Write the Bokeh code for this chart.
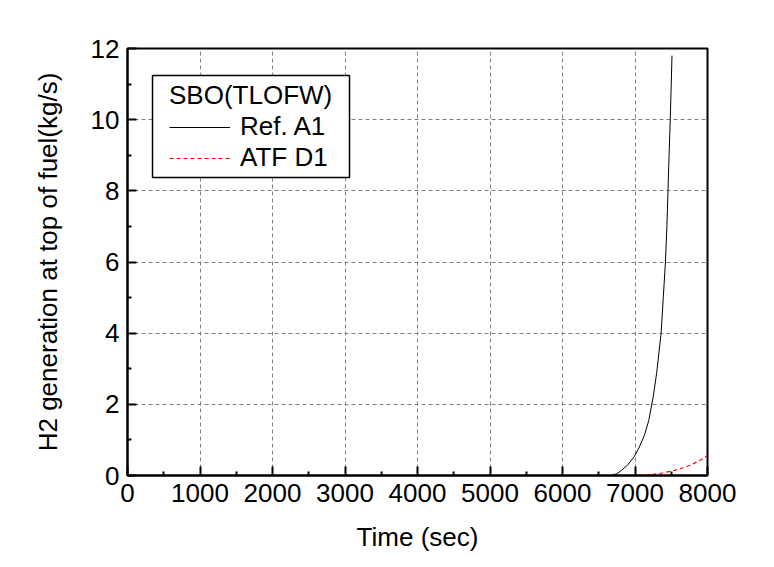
from bokeh.plotting import figure
from bokeh.models import Legend, LegendItem, Range1d, FixedTicker, BoxAnnotation
from bokeh.embed import file_html
from bokeh.resources import INLINE

# Data
ref_time = [0, 1000, 2000, 3000, 4000, 5000, 6000, 6500, 6670, 6750, 6810, 6900, 6990, 7060, 7130, 7190, 7250, 7300, 7360, 7390, 7420, 7440, 7455, 7470, 7486, 7500, 7510]
ref_a1 = [0, 0, 0, 0, 0, 0, 0, 0, 0.0, 0.05, 0.14, 0.30, 0.53, 0.80, 1.13, 1.55, 2.2, 2.9, 4.0, 5.0, 6.0, 7.0, 8.0, 9.0, 10.0, 11.0, 11.8]
atf_time = [0, 1000, 2000, 3000, 4000, 5000, 6000, 7000, 7125, 7250, 7375, 7500, 7625, 7750, 7875, 8000]
atf_d1 = [0, 0, 0, 0, 0, 0, 0, 0.0, 0.01, 0.035, 0.07, 0.12, 0.19, 0.28, 0.40, 0.56]

x_ticks = [0, 1000, 2000, 3000, 4000, 5000, 6000, 7000, 8000]
y_ticks = [0, 2, 4, 6, 8, 10, 12]
x_minor = [500, 1500, 2500, 3500, 4500, 5500, 6500, 7500]
y_minor = [1, 3, 5, 7, 9, 11]

FONT = "Liberation Sans"

p = figure(width=774, height=567, output_backend="svg", toolbar_location=None,
           x_range=Range1d(0, 8000), y_range=Range1d(0, 12),
           min_border_left=127, min_border_right=67, min_border_top=48, min_border_bottom=92)
p.background_fill_color = "white"
p.border_fill_color = "white"
p.outline_line_color = "black"
p.outline_line_width = 2

l1 = p.line(ref_time, ref_a1, line_color="black", line_width=1)
l2 = p.line(atf_time, atf_d1, line_color="red", line_width=1.2, line_dash="4 3")

for ax, ticks, minor in ((p.xaxis[0], x_ticks, x_minor), (p.yaxis[0], y_ticks, y_minor)):
    ax.ticker = FixedTicker(ticks=ticks, minor_ticks=minor)
    ax.major_tick_in = 9
    ax.major_tick_out = 0
    ax.minor_tick_in = 4
    ax.minor_tick_out = 0
    ax.major_tick_line_width = 2
    ax.minor_tick_line_width = 2
    ax.axis_line_width = 2
    ax.axis_line_color = "black"
    ax.major_tick_line_color = "black"
    ax.minor_tick_line_color = "black"
    ax.major_label_text_font = FONT
    ax.major_label_text_font_size = "26px"
    ax.major_label_text_color = "black"
    ax.axis_label_text_font = FONT
    ax.axis_label_text_font_size = "26px"
    ax.axis_label_text_font_style = "normal"
    ax.axis_label_text_color = "black"

p.xaxis.axis_label = "Time (sec)"
p.yaxis.axis_label = "H2 generation at top of fuel(kg/s)"
p.xaxis.major_label_standoff = 8
p.yaxis.major_label_standoff = 8
p.xaxis.axis_label_standoff = 17
p.yaxis.axis_label_standoff = 25

p.xgrid.ticker = FixedTicker(ticks=x_ticks[1:-1])
p.ygrid.ticker = FixedTicker(ticks=y_ticks[1:-1])
for g in (p.xgrid[0], p.ygrid[0]):
    g.grid_line_color = "#808080"
    g.grid_line_dash = "4 3"
    g.grid_line_width = 1

# legend frame (screen units: x from frame left, y up from frame bottom)
box = BoxAnnotation(left=25, right=222, top=400, bottom=298,
                    left_units="screen", right_units="screen", top_units="screen", bottom_units="screen",
                    fill_color="white", fill_alpha=1, line_color="black", line_alpha=1, line_width=1.5)
p.add_layout(box)

legend = Legend(items=[LegendItem(label="Ref. A1", renderers=[l1]),
                       LegendItem(label="ATF D1", renderers=[l2])],
                location=(36, 296))
legend.title = "SBO(TLOFW)"
legend.title_text_font = FONT
legend.title_text_font_size = "26px"
legend.title_text_font_style = "normal"
legend.title_text_color = "black"
legend.title_standoff = -3
legend.label_text_font = FONT
legend.label_text_font_size = "26px"
legend.label_text_color = "black"
legend.glyph_width = 61
legend.label_standoff = 10
legend.label_height = 26
legend.glyph_height = 26
legend.spacing = 0
legend.padding = 6
legend.margin = 0
legend.border_line_alpha = 0
legend.background_fill_alpha = 0
p.add_layout(legend)

open("out.html", "w").write(file_html(p, INLINE))
